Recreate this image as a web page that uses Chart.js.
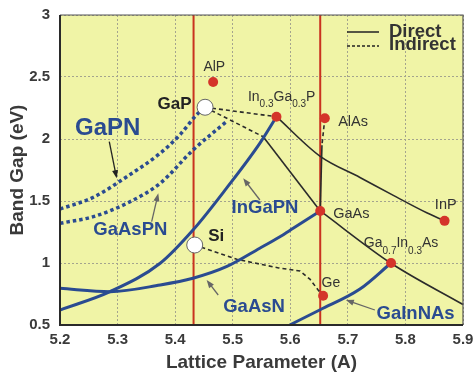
<!DOCTYPE html>
<html>
<head>
<meta charset="utf-8">
<script src="https://cdn.jsdelivr.net/npm/chart.js@4/dist/chart.umd.min.js"></script>
<style>
  html, body { margin: 0; padding: 0; background: #fff; }
  #wrap { width: 473px; height: 375px; }
</style>
</head>
<body>
<div id="wrap"><canvas id="gapChart" width="473" height="375"></canvas></div>
<script>
const xTicks = [5.2, 5.3, 5.4, 5.5, 5.6, 5.7, 5.8, 5.9];
const yTicks = [0.5, 1, 1.5, 2, 2.5, 3];

// compounds marked with red dots
const compoundNames = ['AlP', 'In0.3Ga0.3P', 'AlAs', 'GaAs', 'InP', 'Ga0.7In0.3As', 'Ge'];
const compoundLattice = [5.466, 5.576, 5.66, 5.652, 5.868, 5.775, 5.657];
const compoundGap = [2.46, 2.18, 2.167, 1.42, 1.34, 1.0, 0.736];

// substrates (open circles)
const substrateNames = ['GaP', 'Si'];
const substrateLattice = [5.452, 5.434];
const substrateGap = [2.256, 1.145];

// lattice-matched verticals
const matchLattice = [5.432, 5.652];

// dilute nitride curves
const gapnX = [5.2, 5.258, 5.316, 5.374, 5.408, 5.437, 5.452];
const gapnY = [1.435, 1.53, 1.696, 1.885, 2.032, 2.194, 2.256];
const gaaspnX = [5.2, 5.258, 5.316, 5.374, 5.431, 5.489];
const gaaspnY = [1.32, 1.374, 1.481, 1.643, 1.911, 2.14];
const ingapnX = [5.2, 5.287, 5.374, 5.431, 5.489, 5.547, 5.576];
const ingapnY = [0.621, 0.769, 0.998, 1.266, 1.602, 1.965, 2.18];
const gaasnX = [5.2, 5.287, 5.374, 5.431, 5.489, 5.547, 5.582, 5.605, 5.652];
const gaasnY = [0.796, 0.769, 0.823, 0.877, 0.97, 1.119, 1.212, 1.28, 1.42];
const gainnasX = [5.599, 5.651, 5.721, 5.775];
const gainnasY = [0.5, 0.621, 0.79, 1.0];

// direct gap alloys
const ingapX = [5.576, 5.652, 5.721, 5.779, 5.837, 5.868];
const ingapY = [2.18, 1.86, 1.69, 1.545, 1.405, 1.34];
const gaaspX = [5.553, 5.652];
const gaaspY = [2.018, 1.42];
const gainasX = [5.652, 5.775, 5.9];
const gainasY = [1.42, 0.998, 0.665];
const algaasDirX = [5.655, 5.652];
const algaasDirY = [1.95, 1.42];

// indirect gap alloys
const algaasIndX = [5.66, 5.655];
const algaasIndY = [2.167, 1.95];
const gapInX = [5.452, 5.576];
const gapInY = [2.256, 2.18];
const gapAsX = [5.452, 5.553];
const gapAsY = [2.256, 2.018];
const sigeX = [5.434, 5.507, 5.58, 5.617, 5.634, 5.648, 5.657];
const sigeY = [1.145, 1.03, 0.96, 0.935, 0.87, 0.785, 0.736];

const FONT = "'Liberation Sans', Arial, sans-serif";
const BLUE = '#2a4b91';
const DARK = '#2b2b2b';
const RED = '#d4342a';

const pts = (xs, ys) => xs.map((x, i) => ({ x: x, y: ys[i] }));

function curve(xs, ys, color, width, dash, smooth, order) {
  return {
    data: pts(xs, ys),
    showLine: true,
    borderColor: color,
    borderWidth: width,
    borderDash: dash,
    pointRadius: 0,
    tension: smooth ? 0.4 : 0,
    cubicInterpolationMode: smooth ? 'monotone' : 'default',
    order: order
  };
}

const datasets = [
  {
    data: pts(substrateLattice, substrateGap),
    pointRadius: 8, pointBackgroundColor: '#fff', pointBorderColor: '#666', pointBorderWidth: 1,
    order: 0
  },
  {
    data: pts(compoundLattice, compoundGap),
    pointRadius: 5, pointBackgroundColor: RED, pointBorderColor: RED, pointBorderWidth: 0,
    order: 1
  },
  curve(gapnX, gapnY, BLUE, 3.5, [3.5, 3], true, 3),
  curve(gaaspnX, gaaspnY, BLUE, 3.5, [3.5, 3], true, 3),
  curve(ingapnX, ingapnY, BLUE, 3, [], true, 3),
  curve(gaasnX, gaasnY, BLUE, 3, [], true, 3),
  curve(gainnasX, gainnasY, BLUE, 3, [], true, 3),
  curve(ingapX, ingapY, DARK, 1.6, [], true, 4),
  curve(gaaspX, gaaspY, DARK, 1.6, [], false, 4),
  curve(gainasX, gainasY, DARK, 1.6, [], true, 4),
  curve(algaasDirX, algaasDirY, DARK, 1.6, [], false, 4),
  curve(algaasIndX, algaasIndY, DARK, 1.6, [4, 3], false, 4),
  curve(gapInX, gapInY, DARK, 1.6, [4, 3], false, 4),
  curve(gapAsX, gapAsY, DARK, 1.6, [4, 3], false, 4),
  curve(sigeX, sigeY, DARK, 1.6, [4, 3], false, 4)
];
matchLattice.forEach(x => {
  datasets.push(curve([x, x], [yTicks[0], yTicks[yTicks.length - 1]], '#c9321f', 2, [], false, 6));
});

// text annotations: parts are [text, isSubscript]
const labels = [
  { parts: [['AlP']], x: 5.468, y: 2.583, align: 'center', font: 'normal 14px', color: '#333' },
  { parts: [['GaP']], x: 5.4286, y: 2.28, align: 'right', font: 'bold 17px', color: '#222' },
  { parts: [['In'], ['0.3', 1], ['Ga'], ['0.3', 1], ['P']], x: 5.5264, y: 2.341, align: 'left', font: 'normal 14px', color: '#333' },
  { parts: [['AlAs']], x: 5.6832, y: 2.14, align: 'left', font: 'normal 14.5px', color: '#333' },
  { parts: [['GaAs']], x: 5.6745, y: 1.395, align: 'left', font: 'normal 14.5px', color: '#333' },
  { parts: [['InP']], x: 5.87, y: 1.468, align: 'center', font: 'normal 14.5px', color: '#333' },
  { parts: [['Ga'], ['0.7', 1], ['In'], ['0.3', 1], ['As']], x: 5.7278, y: 1.159, align: 'left', font: 'normal 14px', color: '#333' },
  { parts: [['Ge']], x: 5.6543, y: 0.841, align: 'left', font: 'normal 14px', color: '#333' },
  { parts: [['Si']], x: 5.4575, y: 1.218, align: 'left', font: 'bold 17px', color: '#222' },
  { parts: [['GaPN']], x: 5.226, y: 2.086, align: 'left', font: 'bold 24px', color: BLUE },
  { parts: [['GaAsPN']], x: 5.2579, y: 1.266, align: 'left', font: 'bold 18.5px', color: BLUE },
  { parts: [['InGaPN']], x: 5.498, y: 1.441, align: 'left', font: 'bold 18.5px', color: BLUE },
  { parts: [['GaAsN']], x: 5.4835, y: 0.648, align: 'left', font: 'bold 18.5px', color: BLUE },
  { parts: [['GaInNAs']], x: 5.7498, y: 0.589, align: 'left', font: 'bold 18.5px', color: BLUE }
];

// pointer arrows [x0, y0, x1, y1, colour]; head at the second point
const arrows = [
  [5.2856, 1.978, 5.2984, 1.683, '#222'],
  [5.3592, 1.333, 5.3707, 1.562, '#666'],
  [5.5472, 1.508, 5.5182, 1.683, '#666'],
  [5.4748, 0.742, 5.4547, 0.863, '#666'],
  [5.7469, 0.621, 5.6965, 0.702, '#666']
];

const decor = {
  id: 'decor',
  beforeDraw(chart) {
    const { ctx, chartArea: a } = chart;
    ctx.save();
    ctx.fillStyle = '#f0f4a6';
    ctx.fillRect(a.left, a.top, a.right - a.left, a.bottom - a.top);
    ctx.restore();
  },
  afterDraw(chart) {
    const { ctx, chartArea: a, scales: { x, y } } = chart;
    ctx.save();

    // frame
    ctx.strokeStyle = '#555';
    ctx.lineWidth = 1.2;
    ctx.beginPath();
    ctx.moveTo(a.left, a.top); ctx.lineTo(a.right, a.top); ctx.lineTo(a.right, a.bottom);
    ctx.stroke();
    ctx.strokeStyle = '#2a2a2a';
    ctx.lineWidth = 2;
    ctx.beginPath();
    ctx.moveTo(a.left, a.top); ctx.lineTo(a.left, a.bottom); ctx.lineTo(a.right, a.bottom);
    ctx.stroke();

    // arrows
    arrows.forEach(([x0, y0, x1, y1, col]) => {
      const px0 = x.getPixelForValue(x0), py0 = y.getPixelForValue(y0);
      const px1 = x.getPixelForValue(x1), py1 = y.getPixelForValue(y1);
      const ang = Math.atan2(py1 - py0, px1 - px0);
      ctx.strokeStyle = col;
      ctx.fillStyle = col;
      ctx.lineWidth = 1.3;
      ctx.beginPath();
      ctx.moveTo(px0, py0);
      ctx.lineTo(px1 - 5 * Math.cos(ang), py1 - 5 * Math.sin(ang));
      ctx.stroke();
      ctx.beginPath();
      ctx.moveTo(px1, py1);
      ctx.lineTo(px1 - 8 * Math.cos(ang) + 3 * Math.sin(ang), py1 - 8 * Math.sin(ang) - 3 * Math.cos(ang));
      ctx.lineTo(px1 - 8 * Math.cos(ang) - 3 * Math.sin(ang), py1 - 8 * Math.sin(ang) + 3 * Math.cos(ang));
      ctx.closePath();
      ctx.fill();
    });

    // labels with subscripts
    ctx.textBaseline = 'middle';
    labels.forEach(l => {
      const main = l.font + ' ' + FONT;
      const sub = 'normal 10px ' + FONT;
      let w = 0;
      l.parts.forEach(([t, s]) => { ctx.font = s ? sub : main; w += ctx.measureText(t).width; });
      let px = x.getPixelForValue(l.x);
      if (l.align === 'center') px -= w / 2;
      if (l.align === 'right') px -= w;
      const py = y.getPixelForValue(l.y);
      ctx.fillStyle = l.color;
      ctx.textAlign = 'left';
      l.parts.forEach(([t, s]) => {
        ctx.font = s ? sub : main;
        ctx.fillText(t, px, s ? py + 8 : py);
        px += ctx.measureText(t).width;
      });
    });

    // legend
    const lx = a.right - 116, ly = a.top + 17;
    ctx.strokeStyle = '#222';
    ctx.lineWidth = 1.5;
    ctx.beginPath(); ctx.moveTo(lx, ly); ctx.lineTo(lx + 32, ly); ctx.stroke();
    ctx.setLineDash([3, 2]);
    ctx.beginPath(); ctx.moveTo(lx, ly + 14); ctx.lineTo(lx + 32, ly + 14); ctx.stroke();
    ctx.setLineDash([]);
    ctx.fillStyle = '#333';
    ctx.font = 'bold 18.5px ' + FONT;
    ctx.fillText('Direct', lx + 42, ly);
    ctx.fillText('Indirect', lx + 42, ly + 13);
    ctx.restore();
  }
};

const tickFont = { family: FONT, size: 15, weight: 'bold' };

// fixed axis boxes so the plot area lands where wanted
const fixBox = size => s => {
  if (s.isHorizontal()) s.height = size; else s.width = size;
  s.paddingLeft = s.paddingRight = s.paddingTop = s.paddingBottom = 0;
};

new Chart(document.getElementById('gapChart'), {
  type: 'scatter',
  data: { datasets: datasets },
  options: {
    responsive: false,
    devicePixelRatio: 1,
    animation: false,
    events: [],
    layout: { padding: { left: 0, right: 10, top: 15, bottom: 0 } },
    plugins: { legend: { display: false }, tooltip: { enabled: false } },
    scales: {
      x: {
        type: 'linear',
        min: xTicks[0], max: xTicks[xTicks.length - 1],
        afterBuildTicks: s => { s.ticks = xTicks.map(v => ({ value: v })); },
        afterFit: fixBox(50),
        ticks: { font: tickFont, color: '#3a3a3a', padding: 6, maxRotation: 0, callback: v => v.toFixed(1) },
        grid: { color: '#a4a48e', lineWidth: 1, drawTicks: false },
        border: { display: false, dash: [2, 2] },
        title: {
          display: true, text: 'Lattice Parameter (A)', color: '#3a3a3a',
          font: { family: FONT, size: 19, weight: 'bold' }, padding: { top: 0, bottom: 1 }
        }
      },
      y: {
        type: 'linear',
        min: yTicks[0], max: yTicks[yTicks.length - 1],
        afterBuildTicks: s => { s.ticks = yTicks.map(v => ({ value: v })); },
        afterFit: fixBox(60),
        ticks: { font: tickFont, color: '#3a3a3a', padding: 10, callback: v => String(v) },
        grid: { color: '#a4a48e', lineWidth: 1, drawTicks: false },
        border: { display: false, dash: [2, 2] },
        title: {
          display: true, text: 'Band Gap (eV)', color: '#3a3a3a',
          font: { family: FONT, size: 19, weight: 'bold' }, padding: { top: 6, bottom: 0 }
        }
      }
    }
  },
  plugins: [decor]
});
</script>
</body>
</html>
